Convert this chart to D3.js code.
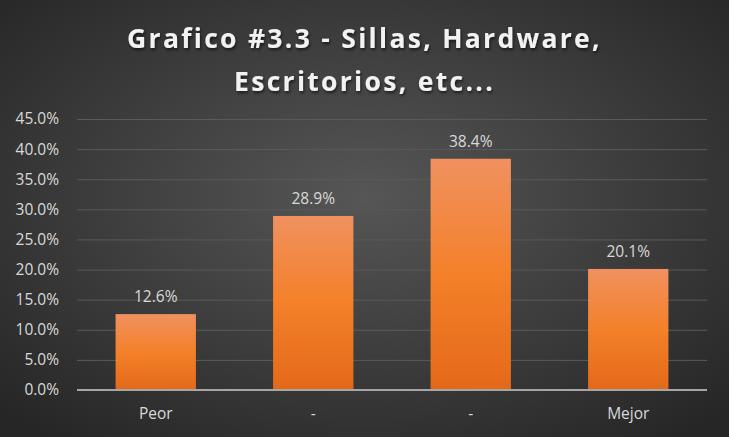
<!DOCTYPE html>
<html>
<head>
<meta charset="utf-8">
<script src="https://cdn.jsdelivr.net/npm/d3@7"></script>
<style>
  html, body { margin: 0; padding: 0; background: #3a3a3a; }
  svg { display: block; }
</style>
</head>
<body>
<svg id="chart" width="729" height="437"></svg>
<script>
// datos
var categorias = ["Peor", "-", "-", "Mejor"];
var valores = [0.126, 0.289, 0.384, 0.201];
var ticks = [0, 0.05, 0.10, 0.15, 0.20, 0.25, 0.30, 0.35, 0.40, 0.45];
var titulo = ["Grafico #3.3 - Sillas, Hardware,", "Escritorios, etc..."];

var ancho = 729, alto = 437;
var margen = {left: 77, right: 22, top: 119, bottom: 47};

var svg = d3.select("#chart");
var defs = svg.append("defs");

// fondo degradado radial
var rg = defs.append("radialGradient")
  .attr("id", "fondo")
  .attr("cx", "50%").attr("cy", "45%").attr("r", "70%");
rg.append("stop").attr("offset", "0%").attr("stop-color", "#565656");
rg.append("stop").attr("offset", "100%").attr("stop-color", "#262626");

// degradado de las barras
var bg = defs.append("linearGradient")
  .attr("id", "barra")
  .attr("x1", 0).attr("y1", 0).attr("x2", 0).attr("y2", 1);
bg.append("stop").attr("offset", "0%").attr("stop-color", "#F09160");
bg.append("stop").attr("offset", "50%").attr("stop-color", "#F48029");
bg.append("stop").attr("offset", "100%").attr("stop-color", "#E3691A");

var sombra = defs.append("filter").attr("id", "sombra")
  .attr("x", "-10%").attr("y", "-20%").attr("width", "130%").attr("height", "150%");
sombra.append("feDropShadow")
  .attr("dx", 1).attr("dy", 2).attr("stdDeviation", 1.5)
  .attr("flood-color", "#000").attr("flood-opacity", 0.6);

svg.append("rect")
  .attr("width", ancho).attr("height", alto)
  .attr("fill", "url(#fondo)");

var x = d3.scaleBand()
  .domain(d3.range(categorias.length))
  .range([margen.left, ancho - margen.right])
  .paddingInner(0.49)
  .paddingOuter(0.245);

var y = d3.scaleLinear()
  .domain([0, 0.45])
  .range([alto - margen.bottom, margen.top]);

// lineas de cuadricula
var eje = svg.append("g")
  .attr("transform", "translate(" + margen.left + ",0)")
  .call(d3.axisLeft(y)
    .tickValues(ticks)
    .tickSize(-(ancho - margen.left - margen.right))
    .tickPadding(18)
    .tickFormat(d3.format(".1%")));
eje.select(".domain").remove();
eje.selectAll(".tick line")
  .attr("stroke", "#5a5a5a")
  .attr("stroke-width", 1);
eje.selectAll(".tick text")
  .attr("fill", "#d9d9d9")
  .attr("font-family", "'Open Sans', sans-serif")
  .attr("font-size", 15.5);

// barras
svg.append("g").selectAll("rect")
  .data(valores)
  .enter()
  .append("rect")
    .attr("x", function(d, i) { return x(i); })
    .attr("y", function(d) { return y(d); })
    .attr("width", x.bandwidth())
    .attr("height", function(d) { return y(0) - y(d); })
    .attr("fill", "url(#barra)");

// linea base
svg.append("line")
  .attr("x1", margen.left).attr("x2", ancho - margen.right)
  .attr("y1", y(0)).attr("y2", y(0))
  .attr("stroke", "#a6a6a6").attr("stroke-width", 2);

// etiquetas de datos
svg.append("g").selectAll("text")
  .data(valores)
  .enter()
  .append("text")
    .attr("x", function(d, i) { return x(i) + x.bandwidth() / 2; })
    .attr("y", function(d) { return y(d) - 12; })
    .attr("text-anchor", "middle")
    .attr("fill", "#d9d9d9")
    .attr("font-family", "'Open Sans', sans-serif")
    .attr("font-size", 15.5)
    .text(function(d) { return d3.format(".1%")(d); });

// categorias
svg.append("g").selectAll("text")
  .data(categorias)
  .enter()
  .append("text")
    .attr("x", function(d, i) { return x(i) + x.bandwidth() / 2; })
    .attr("y", y(0) + 29)
    .attr("text-anchor", "middle")
    .attr("fill", "#d9d9d9")
    .attr("font-family", "'Open Sans', sans-serif")
    .attr("font-size", 15.5)
    .text(function(d) { return d; });

// titulo
svg.append("g").selectAll("text")
  .data(titulo)
  .enter()
  .append("text")
    .attr("x", ancho / 2)
    .attr("y", function(d, i) { return 48 + i * 43; })
    .attr("text-anchor", "middle")
    .attr("fill", "#f2f2f2")
    .attr("font-family", "'Open Sans', sans-serif")
    .attr("font-weight", "bold")
    .attr("font-size", 26.5)
    .attr("letter-spacing", 2.3)
    .attr("filter", "url(#sombra)")
    .text(function(d) { return d; });
</script>
</body>
</html>
